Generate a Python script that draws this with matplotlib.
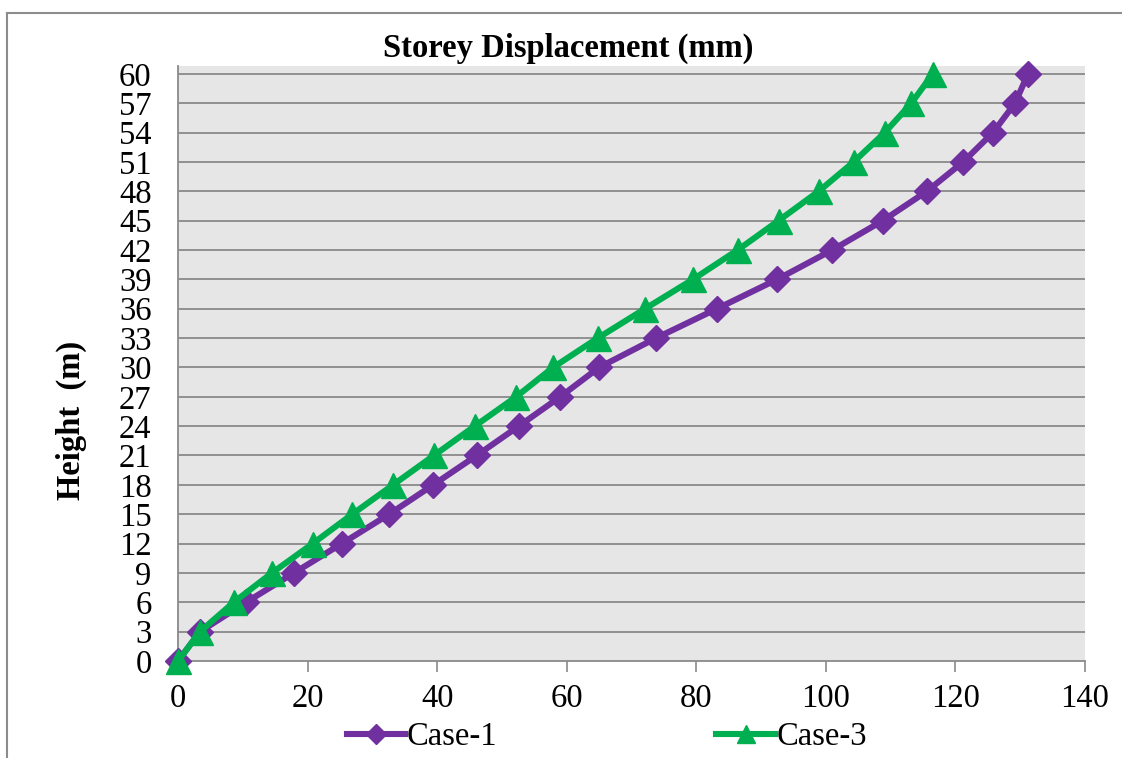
import numpy as np
import matplotlib.pyplot as plt
from matplotlib.lines import Line2D

# Storey heights (m) and displacements (mm)
height = [0, 3, 6, 9, 12, 15, 18, 21, 24, 27, 30, 33, 36, 39, 42, 45, 48, 51, 54, 57, 60]
case1 = [0, 3.4, 10.5, 17.9, 25.3, 32.6, 39.4, 46.1, 52.6, 59.0, 65.0,
         73.8, 83.2, 92.5, 101.0, 108.8, 115.6, 121.2, 125.8, 129.2, 131.2]
case3 = [0, 3.4, 8.6, 14.5, 20.8, 26.9, 33.2, 39.5, 45.8, 52.2, 57.9,
         64.8, 72.1, 79.5, 86.4, 92.7, 98.9, 104.3, 109.1, 113.2, 116.5]

x_ticks = [0, 20, 40, 60, 80, 100, 120, 140]
y_ticks = list(range(0, 61, 3))

plt.rcParams['font.family'] = ['Liberation Serif', 'DejaVu Serif']
FS = 23.5

fig = plt.figure(figsize=(11.22, 7.58), dpi=100)
ax = fig.add_axes([178 / 1122, 1 - 661 / 758, (1085 - 178) / 1122, (661 - 66) / 758])

# outer chart frame (only left and top edges are visible in the crop)
fig.add_artist(Line2D([7 / 1122, 7 / 1122], [0, 1 - 13 / 758], color="#8c8c8c", lw=1.5))
fig.add_artist(Line2D([7 / 1122, 1], [1 - 13 / 758, 1 - 13 / 758], color="#8c8c8c", lw=1.5))

ax.set_facecolor("#e6e6e6")
for y in y_ticks[1:]:
    ax.axhline(y, color="#8a8a8a", lw=1.3, zorder=1)

ax.plot(case1, height, color="#7030a0", lw=4.4, marker="D", markersize=13.5,
        label="Case-1", zorder=3, clip_on=False)
ax.plot(case3, height, color="#00b050", lw=4.4, marker="^", markersize=18,
        label="Case-3", zorder=4, clip_on=False)

ax.set_xlim(0, 140)
ax.set_ylim(0, 60.8)
ax.set_xticks(x_ticks)
ax.set_yticks(y_ticks)
ax.tick_params(axis="x", labelsize=FS, length=8, width=1.2, color="#8a8a8a",
               direction="out", pad=8)
ax.tick_params(axis="y", labelsize=FS, length=0, pad=19)

for side in ["top", "right"]:
    ax.spines[side].set_visible(False)
ax.spines["left"].set_color("#8a8a8a")
ax.spines["bottom"].set_color("#8a8a8a")
ax.spines["left"].set_linewidth(1.3)
ax.spines["bottom"].set_linewidth(1.3)

fig.text(568 / 1122, 1 - 48 / 758, "Storey Displacement (mm)", ha="center", va="center",
         fontsize=FS, fontweight="bold")
fig.text(71 / 1122, 1 - 420 / 758, "Height  (m)", ha="center", va="center",
         rotation=90, fontsize=FS, fontweight="bold")

ax.legend(loc="center", bbox_to_anchor=(0.473, -0.128), ncol=2, frameon=False,
          fontsize=FS, handlelength=1.8, handletextpad=0.05, columnspacing=6.7,
          markerscale=0.75, borderpad=0)

plt.savefig("out.png", dpi=100)
